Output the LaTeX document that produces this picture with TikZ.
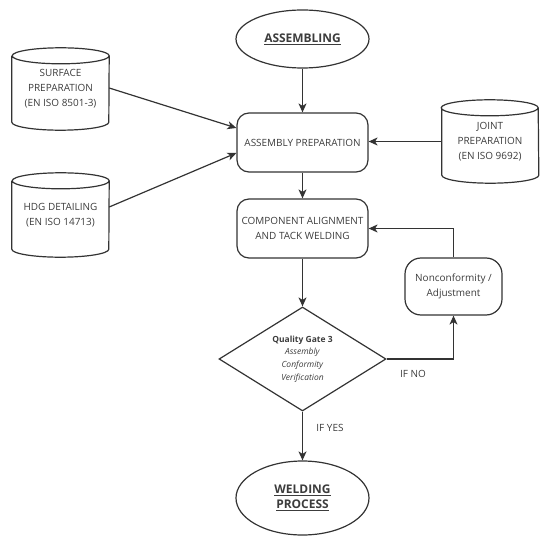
\documentclass[tikz,border=0pt]{standalone}
\usepackage{fontspec}
\setmainfont{Open Sans}
\usetikzlibrary{shapes.geometric,arrows.meta}
\definecolor{ink}{HTML}{333333}
\definecolor{txt}{HTML}{3C3C3C}
\newcommand\drawcyl[1]{%
  \draw[cylline] ([yshift=-8bp]#1.north west) -- ([yshift=8bp]#1.south west)
    arc[start angle=180,end angle=360,x radius=48.5bp,y radius=8bp]
    -- ([yshift=-8bp]#1.north east)
    arc[start angle=0,end angle=360,x radius=48.5bp,y radius=8bp];}
\begin{document}
\begin{tikzpicture}[x=1bp,y=-1bp,
  font=\fontsize{10}{15}\selectfont,
  every node/.style={text=txt},
  procbox/.style={draw=ink,line width=1.2bp,rounded corners=12bp,minimum width=131bp,minimum height=59bp,align=center,inner sep=0pt},
  terminal/.style={ellipse,draw=ink,line width=1.2bp,minimum width=133bp,align=center,inner sep=0pt,font=\fontsize{12}{15}\selectfont\bfseries},
  cylnode/.style={minimum width=97bp,minimum height=82bp,align=center,inner sep=0pt},
  cylline/.style={draw=ink,line width=1.2bp},
  decision/.style={diamond,draw=ink,line width=1.2bp,aspect=1.6,minimum width=167bp,minimum height=104bp,align=center,inner sep=0pt,font=\fontsize{8.5}{12.8}\selectfont},
  arr/.style={draw=ink,line width=1.2bp,-{Stealth[length=9bp,width=8bp,inset=2.5bp]}},
  lbl/.style={font=\fontsize{10}{12}\selectfont}]
\useasboundingbox (0,0) rectangle (550,543);
\node[terminal,minimum height=58bp] (start) at (302.5,39) {\underline{ASSEMBLING}};
\node[procbox] (prep) at (302.5,142.5) {ASSEMBLY PREPARATION};
\node[procbox] (align) at (302.5,228.5) {COMPONENT ALIGNMENT\\AND TACK WELDING};
\node[cylnode,minimum height=82bp] (surf) at (60.5,89) {SURFACE\\PREPARATION\\(EN ISO 8501-3)};
\node[cylnode,minimum height=84bp] (hdg) at (60.5,215) {HDG DETAILING\\(EN ISO 14713)};
\node[cylnode,minimum width=96bp,minimum height=83bp] (joint) at (490,141.5) {JOINT\\PREPARATION\\(EN ISO 9692)};
\drawcyl{surf}
\drawcyl{hdg}
\drawcyl{joint}
\node[decision] (qg) at (302.5,359) {\textbf{Quality Gate 3}\\\textit{Assembly}\\\textit{Conformity}\\\textit{Verification}};
\node[procbox,minimum width=97bp,minimum height=57bp,rounded corners=16bp] (nc) at (453.5,286.5) {Nonconformity /\\Adjustment};
\node[terminal,minimum height=74bp] (weld) at (302.5,498) {\underline{WELDING}\\\underline{PROCESS}};
\node[lbl] (ifno) at (413,374) {IF NO};
\node[lbl] (ifyes) at (330,428) {IF YES};
\draw[arr] (start) -- (prep);
\draw[arr] ([yshift=1bp]surf.east) -- ([yshift=14.5bp]prep.west);
\draw[arr] ([yshift=8bp]hdg.east) -- ([yshift=-10.5bp]prep.west);
\draw[arr] (joint.west) -- (joint.west -| prep.east);
\draw[arr] (prep) -- (align);
\draw[arr] (align) -- (qg);
\draw[arr] (qg.east) -| (nc.south);
\draw[arr] (nc.north) |- (align.east);
\draw[arr] (qg) -- (weld);
\end{tikzpicture}
\end{document}
